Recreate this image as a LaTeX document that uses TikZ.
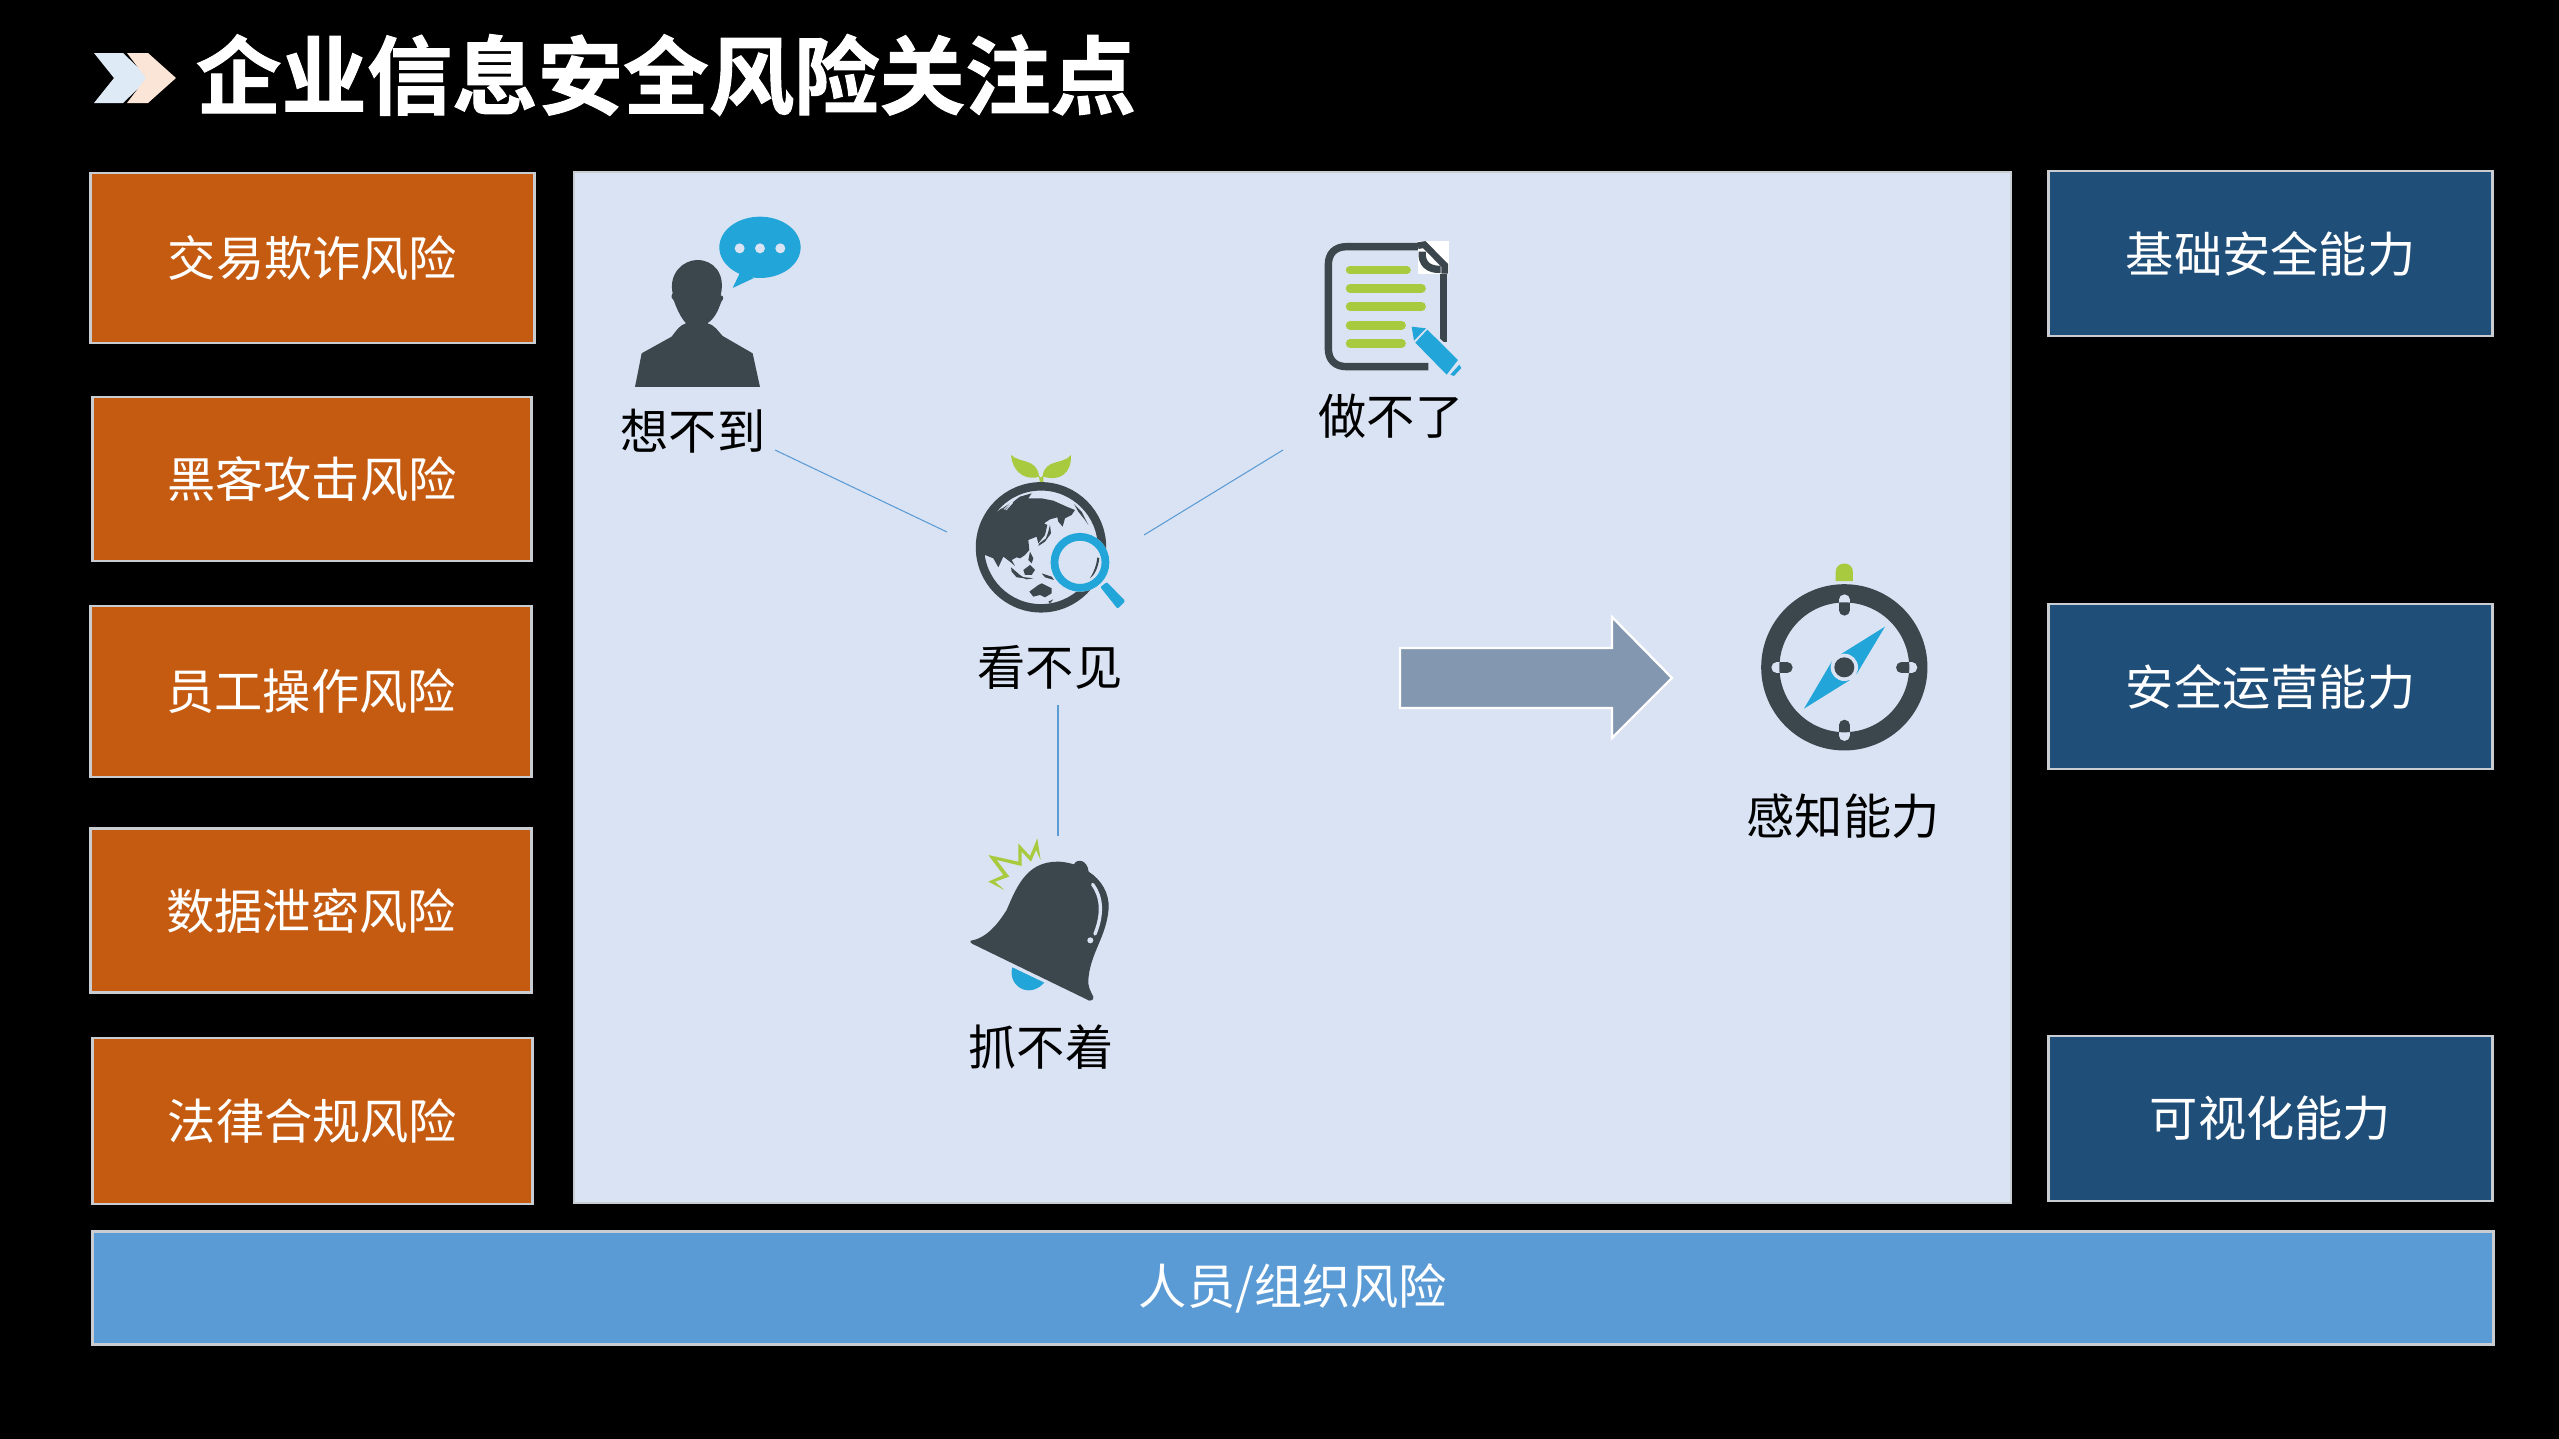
\documentclass[tikz,border=0pt]{standalone}
\usepackage{fontspec}
\setmainfont{Noto Sans CJK SC}
\newfontfamily\titlefont[FakeBold=1.2]{Noto Sans CJK SC Bold}
\definecolor{bgpanel}{HTML}{DAE3F3}
\definecolor{riskbox}{HTML}{C55A11}
\definecolor{abilitybox}{HTML}{1F4E79}
\definecolor{peoplebox}{HTML}{5B9BD5}
\definecolor{icondark}{HTML}{3C464D}
\definecolor{iconblue}{HTML}{22A5D8}
\definecolor{icongreen}{HTML}{A8CA3E}
\definecolor{arrowfill}{HTML}{8497B0}
\definecolor{boxedge}{HTML}{C9CCD0}
\definecolor{chevblue}{HTML}{DEEAF6}
\definecolor{chevpeach}{HTML}{FBE5D6}
\newcommand{\boxlabel}[1]{\raisebox{-0.5pt}{#1}}
\tikzset{
  boxtext/.style={font=\fontsize{13.72pt}{16pt}\selectfont,text=white,draw=boxedge,line width=0.8pt,inner sep=0pt},
  risk/.style={boxtext,fill=riskbox,minimum width=4.43cm,minimum height=1.66cm},
  ability/.style={boxtext,fill=abilitybox,minimum width=4.43cm,minimum height=1.65cm},
  people/.style={boxtext,fill=peoplebox,minimum width=23.99cm,minimum height=1.13cm},
  label/.style={font=\fontsize{13.72pt}{16pt}\selectfont,text=black,inner sep=0pt},
  link/.style={draw=peoplebox,line width=0.3pt}
}
\begin{document}
\begin{tikzpicture}[x=0.01cm,y=-0.01cm]
  \fill[black] (0,0) rectangle (2559,1439);
  \useasboundingbox (0,0) rectangle (2559,1439);
  % title
  \fill[chevblue] (94,53) -- (123,53) -- (149,78) -- (123,103) -- (94,103) -- (114,78) -- cycle;
  \fill[chevpeach] (127,53) -- (148,53) -- (176,78) -- (148,103) -- (127,103) -- (146,78) -- cycle;
  \node[font=\fontsize{24.3pt}{28pt}\selectfont\titlefont,text=white,inner sep=0pt] (title) at (666,75) {企业信息安全风险关注点};
  % left column
  \node[risk,minimum width=4.43cm,minimum height=1.70cm] (jiaoyi) at (312.5,258) {\boxlabel{交易欺诈风险}};
  \node[risk,minimum width=4.39cm,minimum height=1.64cm] (heike) at (312,479) {\boxlabel{黑客攻击风险}};
  \node[risk,minimum width=4.40cm,minimum height=1.71cm] (yuangong) at (311,691.5) {\boxlabel{员工操作风险}};
  \node[risk,minimum width=4.40cm,minimum height=1.64cm] (shuju) at (311,910.5) {\boxlabel{数据泄密风险}};
  \node[risk,minimum width=4.40cm,minimum height=1.66cm] (falv) at (312.5,1121) {\boxlabel{法律合规风险}};
  % panel
  \filldraw[fill=bgpanel,draw=boxedge,line width=0.8pt] (574,172) rectangle (2011,1203);
  % right column
  \node[ability] (jichu) at (2270.5,253.5) {\boxlabel{基础安全能力}};
  \node[ability] (yunying) at (2270.5,686.5) {\boxlabel{安全运营能力}};
  \node[ability] (keshi) at (2270.5,1118.5) {\boxlabel{可视化能力}};
  \node[people] (renyuan) at (1293,1288) {\raisebox{-1.1pt}{人员/组织风险}};
  % labels
  \node[label] (xiang) at (693,431) {想不到};
  \node[label] (zuo) at (1391,416) {做不了};
  \node[label] (kan) at (1050,667) {看不见};
  \node[label] (zhua) at (1041,1047) {抓不着};
  \node[label] (ganzhi) at (1843,816) {感知能力};
  % links
  \coordinate (xiangend) at (775,450);
  \coordinate (kanleft) at (947,532);
  \coordinate (zuoend) at (1283,450);
  \coordinate (kanright) at (1144,535);
  \coordinate (kandown) at (1058,705);
  \coordinate (zhuaend) at (1058,836);
  \draw[link] (xiangend) -- (kanleft);
  \draw[link] (zuoend) -- (kanright);
  \draw[link] (kandown) -- (zhuaend);
  % arrow
  \filldraw[fill=arrowfill,draw=white,line width=0.65pt] (1400,648) -- (1612,648) -- (1612,617) -- (1672,678) -- (1612,738) -- (1612,708) -- (1400,708) -- cycle;
  % person
  \begin{scope}[shift={(600,190)},scale=0.3333]
    \fill[icondark] (105,591) -- (125,490) -- (215,440) .. controls (230,420) and (240,405) .. (258,400)
      .. controls (240,380) and (228,350) .. (222,333) .. controls (215,328) and (212,318) .. (218,310)
      .. controls (205,250) and (250,210) .. (292,210) .. controls (340,210) and (378,250) .. (362,316)
      .. controls (372,318) and (372,326) .. (364,335) .. controls (355,360) and (345,385) .. (322,400)
      .. controls (345,405) and (355,425) .. (368,438) -- (458,490) -- (480,591) -- cycle;
    \fill[iconblue] (480,172) circle[x radius=122,y radius=92];
    \fill[iconblue] (420,248) -- (398,294) -- (462,264) -- cycle;
    \fill[bgpanel] (419,175) circle[radius=15] (480,175) circle[radius=15] (541,175) circle[radius=15];
  \end{scope}
  % document
  \begin{scope}[shift={(1290,220)},scale=0.3333]
    \draw[icondark,line width=2.1pt] (415,440) -- (170,440) .. controls (135,440) and (115,420) .. (115,385) -- (115,135)
      .. controls (115,100) and (135,80) .. (170,80) -- (400,80);
    \draw[icondark,line width=2.1pt] (460,130) -- (460,365);
    \fill[white] (384,63) rectangle (477,161);
    \draw[icondark,line width=1.9pt] (384,77) -- (403,74) -- (464,136) -- (464,161);
    \draw[icondark,line width=2.1pt] (397,95) .. controls (393,130) and (415,150) .. (452,148);
    \draw[icongreen,line width=2.4pt,line cap=round] (180,150) -- (350,150) (180,205) -- (395,205) (180,260) -- (395,260) (180,316) -- (335,316) (180,370) -- (335,370);
    \fill[bgpanel] (360,340) -- (400,310) -- (530,430) -- (490,480) -- cycle;
    \fill[iconblue] (365,320) -- (408,325) -- (372,362) -- cycle;
    \fill[iconblue] (412,329) -- (504,420) -- (470,464) -- (376,368) -- cycle;
    \fill[iconblue] (508,434) -- (514,444) -- (492,468) -- (481,464) -- cycle;
  \end{scope}
  % globe
  \begin{scope}[shift={(930,440)},scale=0.3333]
    \fill[icongreen] (330,130) -- (327,110) .. controls (300,120) and (250,110) .. (243,45) .. controls (270,70) and (320,55) .. (327,108)
      .. controls (330,115) and (335,115) .. (338,108) .. controls (345,55) and (400,75) .. (423,45) .. controls (425,100) and (390,125) .. (340,110) -- (340,130) -- cycle;
    \draw[icondark,line width=2.4pt] (333,322) circle[radius=183];
  \end{scope}
  \begin{scope}[shift={(970,480)},scale=0.3333]
    % continents
    \fill[icondark] (25,200) -- (30,150) -- (60,110) -- (95,85) -- (130,65) -- (150,50) -- (185,40) -- (175,55) -- (215,55) -- (250,62) -- (290,80) -- (315,90)
      -- (305,105) -- (285,115) -- (278,140) -- (265,125) -- (262,112) -- (240,118) -- (222,130) -- (232,135) -- (225,165) -- (205,190) -- (200,170) -- (175,180)
      -- (178,210) -- (165,225) -- (150,235) -- (140,232) -- (125,240) -- (135,258) -- (120,245) -- (100,230) -- (85,262) -- (70,235) -- (45,225) -- (30,232) -- cycle;
    \draw[bgpanel,line width=0.25pt] (95,85) -- (130,56) (102,88) -- (133,60) (108,90) -- (128,68);
    \fill[icondark] (240,135) -- (243,160) -- (225,185) -- (205,198) -- (208,190) -- (228,175) -- (235,155) -- cycle;
    \fill[icondark] (312,72) -- (335,95) -- (355,135) -- (345,120) -- (325,95) -- cycle;
    \fill[icondark] (123,262) -- (150,285) -- (165,295) -- (140,292) -- (125,275) -- cycle;
    \fill[icondark] (160,270) -- (180,255) -- (195,270) -- (185,285) -- (165,285) -- cycle;
    \fill[icondark] (180,215) -- (190,235) -- (185,250) -- (175,240) -- cycle;
    \fill[icondark] (150,290) -- (190,295) -- (170,298) -- cycle;
    \fill[icondark] (215,280) -- (245,290) -- (252,300) -- (225,292) -- cycle;
    \fill[icondark] (178,335) -- (205,315) -- (215,310) -- (245,325) -- (245,340) -- (225,352) -- (210,345) -- (190,350) -- cycle;
    \fill[icondark] (235,365) -- (250,358) -- (240,370) -- cycle;
  \end{scope}
  \begin{scope}[shift={(930,440)},scale=0.3333]
    % magnifier
    \fill[bgpanel] (450,367) circle[radius=88];
    \draw[iconblue,line width=2.2pt] (450,367) circle[radius=76.5];
    \fill[icondark] (508,355) .. controls (505,380) and (495,405) .. (480,415) .. controls (492,395) and (500,375) .. (502,352) -- cycle;
    \filldraw[iconblue,line width=0.8pt,line join=round] (517,442) -- (530,432) -- (580,483) -- (563,500) -- cycle;
  \end{scope}
  % bell
  \begin{scope}[shift={(950,830)},scale=0.3333]
    \fill[iconblue] (187,412) .. controls (172,465) and (235,510) .. (283,458) -- cycle;
    \fill[icondark] (62,332) .. controls (110,325) and (145,280) .. (170,240) .. controls (200,170) and (230,95) .. (322,95)
      .. controls (345,95) and (360,100) .. (372,103) .. controls (380,85) and (412,88) .. (416,125)
      .. controls (455,150) and (478,190) .. (476,235) .. controls (470,320) and (420,370) .. (415,450)
      .. controls (414,470) and (420,480) .. (430,500) .. controls (430,510) and (425,513) .. (418,512) -- (68,342) .. controls (62,340) and (60,336) .. (62,332) -- cycle;
    \draw[bgpanel,line width=0.95pt,line cap=round] (428,163) .. controls (455,200) and (460,250) .. (435,312);
    \fill[bgpanel] (421,331) circle[radius=9];
    \fill[icongreen] (163,180) -- (115,155) -- (160,135) -- (115,75) -- (205,95) -- (205,40) -- (240,78) -- (262,25) -- (272,90) -- (258,60) -- (243,95) -- (215,65) -- (215,108) -- (140,90) -- (178,140) -- (135,155) -- cycle;
  \end{scope}
  % compass
  \begin{scope}[shift={(1730,550)},scale=0.3333]
    \fill[icongreen] (317,93) -- (317,66) .. controls (317,32) and (369,32) .. (369,66) -- (369,93) -- cycle;
    \draw[icondark,line width=5.2pt] (343,352) circle[radius=222];
    \draw[bgpanel,line width=3pt,line cap=round] (343,149) -- (343,181) (343,525) -- (343,557) (140,353) -- (172,353) (514,353) -- (546,353);
    \begin{scope}
      \clip (343,352) circle[radius=195];
      \draw[icondark,line width=3pt,line cap=round] (343,149) -- (343,181) (343,525) -- (343,557) (140,353) -- (172,353) (514,353) -- (546,353);
    \end{scope}
    \fill[iconblue] (465,230) -- (327,316) -- (380,372) -- cycle;
    \fill[iconblue] (222,476) -- (360,390) -- (305,335) -- cycle;
    \fill[bgpanel] (343,352) circle[radius=41];
    \fill[icondark] (343,352) circle[radius=30];
  \end{scope}
\end{tikzpicture}
\end{document}
